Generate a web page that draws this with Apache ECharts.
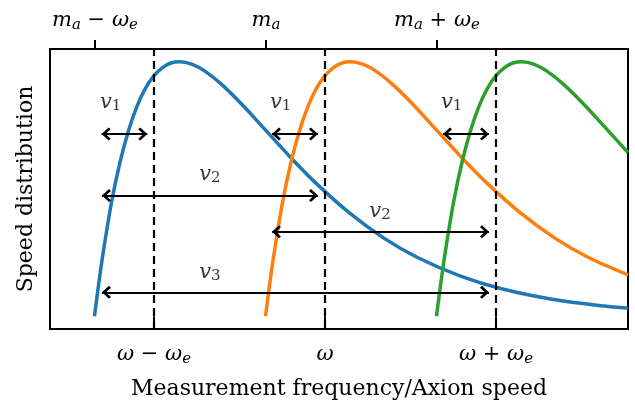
<!DOCTYPE html>
<html><head><meta charset="utf-8">
<script src="https://cdn.jsdelivr.net/npm/echarts@6/dist/echarts.min.js"></script>
<style>html,body{margin:0;padding:0;background:#fff}#c{width:635px;height:405px}</style>
</head><body><div id="c"></div>
<script>
// axis ranges (x in units of omega_e, centred on omega)
const xMin = -1.608, xMax = 1.772;
const yMin = -0.05, yMax = 1.05;

// speed-distribution curves: [x, y]
const blueCurve = [[-1.348,0],[-1.323,0.129],[-1.298,0.246],[-1.249,0.445],[-1.199,0.604],[-1.149,0.729],[-1.100,0.824],[-1.050,0.895],[-1.000,0.945],[-0.950,0.977],[-0.901,0.995],[-0.851,1.000],[-0.776,0.990],[-0.702,0.963],[-0.603,0.910],[-0.478,0.827],[-0.354,0.736],[-0.205,0.627],[-0.056,0.525],[0.143,0.406],[0.342,0.308],[0.541,0.231],[0.789,0.159],[1.038,0.107],[1.336,0.066],[1.634,0.040],[1.772,0.032]];
const orangeCurve = [[-0.348,0],[-0.323,0.129],[-0.298,0.246],[-0.249,0.445],[-0.199,0.604],[-0.149,0.729],[-0.100,0.824],[-0.050,0.895],[0.000,0.945],[0.050,0.977],[0.099,0.995],[0.149,1.000],[0.224,0.990],[0.298,0.963],[0.397,0.910],[0.522,0.827],[0.646,0.736],[0.795,0.627],[0.944,0.525],[1.143,0.406],[1.342,0.308],[1.541,0.231],[1.772,0.163]];
const greenCurve = [[0.652,0],[0.677,0.129],[0.702,0.246],[0.751,0.445],[0.801,0.604],[0.851,0.729],[0.900,0.824],[0.950,0.895],[1.000,0.945],[1.050,0.977],[1.099,0.995],[1.149,1.000],[1.224,0.990],[1.298,0.963],[1.397,0.910],[1.522,0.827],[1.646,0.736],[1.772,0.643]];

// tick positions and labels
const bottomTicks = [-1, 0, 1];
const bottomLabels = ['{i|ω}{n| − }{i|ω}{s|e}', '{i|ω}', '{i|ω}{n| + }{i|ω}{s|e}'];
const topTicks = [-1.345, -0.345, 0.655];
const topLabels = ['{i|m}{s|a}{n| − }{i|ω}{s|e}', '{i|m}{s|a}', '{i|m}{s|a}{n| + }{i|ω}{s|e}'];

// double arrows: start x, end x, level y
const arrowStart = [-1.306, -0.310, 0.690, -1.304, -0.310, -1.304];
const arrowEnd   = [-1.039, -0.041, 0.959, -0.041, 0.959, 0.959];
const arrowLevel = [0.716, 0.716, 0.716, 0.474, 0.332, 0.094];

// arrow labels v_i
const labelX = [-1.253, -0.259, 0.741, -0.673, 0.322, -0.673];
const labelY = [0.839, 0.839, 0.839, 0.557, 0.413, 0.173];
const labelSub = ['1', '1', '1', '2', '2', '3'];

const serif = 'DejaVu Serif';
const richMath = {
  i: {fontFamily: serif, fontStyle: 'italic', fontSize: 21, lineHeight: 24, color: '#000'},
  n: {fontFamily: serif, fontSize: 21, lineHeight: 24, color: '#000'},
  s: {fontFamily: serif, fontStyle: 'italic', fontSize: 15, lineHeight: 12, verticalAlign: 'bottom', color: '#000'}
};
function lookup(ticks, labels, v) {
  for (let k = 0; k < ticks.length; k++) if (Math.abs(ticks[k] - v) < 1e-6) return labels[k];
  return '';
}
const chevron = 'path://M6,0 L12,6 L10.3,7.7 L6,3.4 L1.7,7.7 L0,6 Z';

const chart = echarts.init(document.getElementById('c'), null, {renderer: 'canvas'});
chart.setOption({
  animation: false,
  backgroundColor: '#fff',
  grid: {left: 50, right: 7, top: 49, bottom: 75, show: true, borderColor: '#000', borderWidth: 2, backgroundColor: 'transparent'},
  xAxis: [{
    type: 'value', min: xMin, max: xMax, position: 'bottom',
    axisLine: {show: false}, splitLine: {show: false},
    axisTick: {show: true, customValues: bottomTicks, length: 9, lineStyle: {color: '#000', width: 2}},
    axisLabel: {customValues: bottomTicks, margin: 14, formatter: v => lookup(bottomTicks, bottomLabels, v), rich: richMath},
    name: 'Measurement frequency/Axion speed', nameLocation: 'middle', nameGap: 49,
    nameTextStyle: {fontFamily: serif, fontSize: 22, color: '#000'}
  }, {
    type: 'value', min: xMin, max: xMax, position: 'top',
    axisLine: {show: false}, splitLine: {show: false},
    axisTick: {show: true, customValues: topTicks, length: 9, lineStyle: {color: '#000', width: 2}},
    axisLabel: {customValues: topTicks, margin: 16, formatter: v => lookup(topTicks, topLabels, v), rich: richMath}
  }],
  yAxis: {
    type: 'value', min: yMin, max: yMax,
    axisLine: {show: false}, axisTick: {show: false}, axisLabel: {show: false}, splitLine: {show: false},
    name: 'Speed distribution', nameLocation: 'middle', nameGap: 13, nameRotate: 90,
    nameTextStyle: {fontFamily: serif, fontSize: 22, color: '#000'}
  },
  series: [
    {type: 'line', data: blueCurve, showSymbol: false, smooth: 0.3, lineStyle: {color: '#1f77b4', width: 3.5}, itemStyle: {color: '#1f77b4'}, z: 3},
    {type: 'line', data: orangeCurve, showSymbol: false, smooth: 0.3, lineStyle: {color: '#ff7f0e', width: 3.5}, itemStyle: {color: '#ff7f0e'}, z: 3},
    {type: 'line', data: greenCurve, showSymbol: false, smooth: 0.3, lineStyle: {color: '#2ca02c', width: 3.5}, itemStyle: {color: '#2ca02c'}, z: 3},
    {
      type: 'line', data: [], silent: true,
      markLine: {
        silent: true, symbol: 'none', animation: false,
        lineStyle: {color: '#000', width: 2.2, type: [8, 5]},
        label: {show: false},
        data: bottomTicks.map(v => ({xAxis: v}))
      }
    },
    {
      type: 'line', data: [], silent: true, z: 4,
      markLine: {
        silent: true, animation: false,
        symbol: [chevron, chevron], symbolSize: [13, 9], symbolOffset: [[0, 4.5], [0, 4.5]],
        lineStyle: {color: '#000', width: 2.2, type: 'solid'},
        label: {show: false},
        data: arrowStart.map((s, k) => [{coord: [s, arrowLevel[k]]}, {coord: [arrowEnd[k], arrowLevel[k]]}])
      }
    },
    {
      type: 'scatter', symbolSize: 0, silent: true, z: 5,
      data: labelX.map((x, k) => [x, labelY[k]]),
      label: {
        show: true, position: 'inside',
        formatter: p => '{v|v}{s|' + labelSub[p.dataIndex] + '}',
        rich: {
          v: {fontFamily: serif, fontStyle: 'italic', fontSize: 21, lineHeight: 22, color: '#000'},
          s: {fontFamily: serif, fontSize: 15, lineHeight: 12, verticalAlign: 'bottom', color: '#000'}
        }
      }
    }
  ]
});
</script></body></html>
